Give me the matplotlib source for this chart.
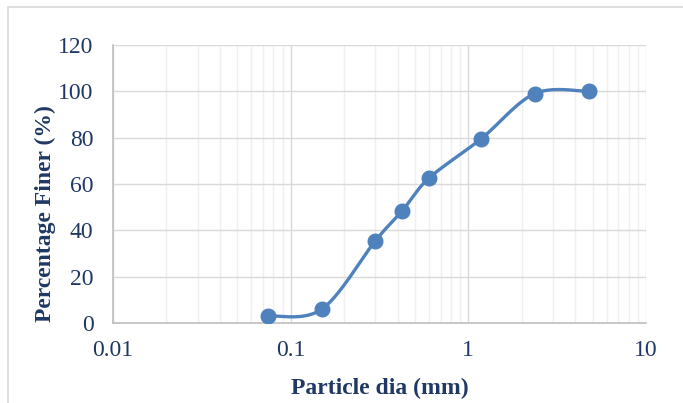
import numpy as np
import matplotlib
matplotlib.use("Agg")
import matplotlib.pyplot as plt
from matplotlib.patches import Rectangle
from matplotlib.ticker import LogLocator, FixedLocator, NullFormatter

particle_dia = [0.075, 0.15, 0.3, 0.425, 0.6, 1.18, 2.36, 4.75]
percent_finer = [3, 6, 35.5, 48.5, 62.5, 79.5, 99, 100]
x_ticks = [0.01, 0.1, 1, 10]
x_tick_labels = ["0.01", "0.1", "1", "10"]
y_ticks = [0, 20, 40, 60, 80, 100, 120]

text_color = "#1F3864"
line_color = "#4F81BD"
plt.rcParams['font.family'] = ['Liberation Serif', 'DejaVu Serif']

fig = plt.figure(figsize=(6.83, 4.03), dpi=100)
fig.patches.append(Rectangle((8/683, -0.1), 1.1, 1 - 7/403 + 0.1, transform=fig.transFigure,
                             fill=False, edgecolor="#D9D9D9", linewidth=1.2, zorder=0))
ax = fig.add_axes([113/683, 1 - 323/403, 533/683, 278/403])
ax.set_xscale('log')
ax.set_xlim(0.01, 10)
ax.set_ylim(0, 120)

# Excel-like smoothed line computed in display space
xd = np.array(particle_dia, float)
yd = np.array(percent_finer, float)
P = ax.transData.transform(np.column_stack([xd, yd]))
n = len(P)
curve = []
for i in range(n - 1):
    p0 = P[i - 1] if i > 0 else P[i]
    p1 = P[i]
    p2 = P[i + 1]
    p3 = P[i + 2] if i + 2 < n else P[i + 1]
    c1 = p1 + (p2 - p0) / 6.0
    c2 = p2 - (p3 - p1) / 6.0
    t = np.linspace(0, 1, 40)[:, None]
    seg = ((1 - t) ** 3) * p1 + 3 * ((1 - t) ** 2) * t * c1 + 3 * (1 - t) * t ** 2 * c2 + t ** 3 * p2
    curve.append(seg if i == 0 else seg[1:])
curve = np.vstack(curve)
cdata = ax.transData.inverted().transform(curve)
ax.plot(cdata[:, 0], cdata[:, 1], color=line_color, linewidth=2.4, zorder=3, solid_capstyle='round')
ax.plot(xd, yd, linestyle='none', marker='o', markersize=10.5, color=line_color, zorder=4)

# grid
ax.xaxis.set_major_locator(FixedLocator(x_ticks))
ax.set_xticklabels(x_tick_labels)
ax.xaxis.set_minor_locator(LogLocator(base=10, subs=np.arange(2, 10)))
ax.xaxis.set_minor_formatter(NullFormatter())
ax.set_yticks(y_ticks)
ax.grid(True, which='major', axis='both', color='#D9D9D9', linewidth=1.0, zorder=0)
ax.grid(True, which='minor', axis='x', color='#EFEFEF', linewidth=1.0, zorder=0)
ax.set_axisbelow(True)

for s in ['top', 'right']:
    ax.spines[s].set_visible(False)
ax.spines['left'].set_color('#BFBFBF')
ax.spines['bottom'].set_color('#BFBFBF')
ax.spines['left'].set_linewidth(1.2)
ax.spines['bottom'].set_linewidth(1.2)

ax.tick_params(axis='both', which='both', length=0, labelsize=17, colors=text_color)
ax.tick_params(axis='y', pad=14)
ax.tick_params(axis='x', pad=12)

ax.set_xlabel("Particle dia (mm)", fontsize=17, fontweight='bold', color=text_color)
ax.set_ylabel("Percentage Finer (%)", fontsize=17, fontweight='bold', color=text_color)
ax.xaxis.label.set_va('center')
ax.yaxis.label.set_va('center')
ax.xaxis.set_label_coords((380 - 113) / 533, (323 - 388) / 278)
ax.yaxis.set_label_coords((45 - 113) / 533, (323 - 214) / 278)

fig.savefig("out.png", dpi=100)
